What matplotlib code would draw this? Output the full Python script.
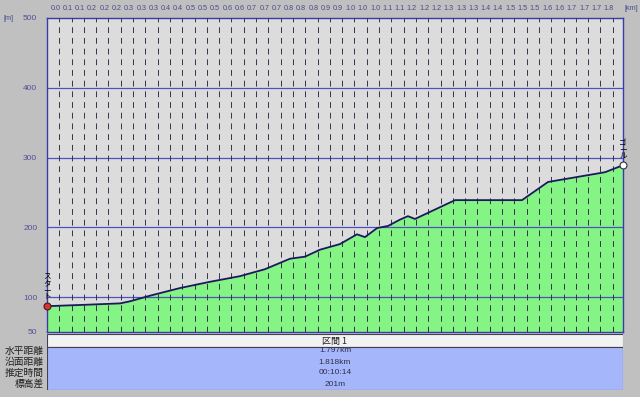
#!/usr/bin/env python3
# -*- coding: utf-8 -*-
"""Elevation profile of one route section (区間 1)."""
import matplotlib
matplotlib.use("Agg")
import matplotlib.pyplot as plt
import matplotlib.transforms as mtransforms
from matplotlib.patches import Rectangle

# --- Data ---
# distance along the route [km] and elevation [m]
dist_km = [0.000, 0.119, 0.228, 0.259, 0.321, 0.415, 0.509, 0.602, 0.680, 0.758,
           0.805, 0.852, 0.914, 0.967, 0.992, 1.030, 1.064, 1.101, 1.126, 1.148,
           1.273, 1.482, 1.563, 1.741, 1.797]
elev_m = [87, 89, 91, 94, 102, 113, 122, 130, 140, 155,
          158, 168, 176, 190, 186, 199, 202, 211, 216, 212,
          239, 239, 265, 279, 289]

# labels printed above each dashed grid line
top_labels = ["0.0", "0.1", "0.1", "0.2", "0.2", "0.2", "0.3", "0.3", "0.3", "0.4",
              "0.4", "0.5", "0.5", "0.5", "0.6", "0.6", "0.7", "0.7", "0.7", "0.8",
              "0.8", "0.8", "0.9", "0.9", "1.0", "1.0", "1.0", "1.1", "1.1", "1.2",
              "1.2", "1.2", "1.3", "1.3", "1.3", "1.4", "1.4", "1.5", "1.5", "1.5",
              "1.6", "1.6", "1.7", "1.7", "1.7", "1.8"]
y_ticks = [50, 100, 200, 300, 400, 500]
y_grid = [100, 200, 300, 400]

section_name = "区間 1"
row_names = ["水平距離", "沿面距離", "推定時間", "標高差"]
row_values = ["1.797km", "1.818km", "00:10:14", "201m"]

start_name = "ス\nタ\nー\nト"
goal_name = "ゴ\nー\nル"

# --- Layout ---
W, H = 640, 397
TOTAL_KM = 1.797
GRID_STEP = 0.03837  # km between dashed lines
CJK = ["Noto Sans CJK JP", "DejaVu Sans"]
NUM = ["Liberation Sans", "DejaVu Sans"]


def box(x0, y0, x1, y1):
    """Pixel box (top-left origin) -> figure fraction rect."""
    return [x0 / W, 1 - y1 / H, (x1 - x0) / W, (y1 - y0) / H]


fig = plt.figure(figsize=(W / 100, H / 100), dpi=100, facecolor="#c0c0c0")

# ---------------------------- profile ----------------------------
ax = fig.add_axes(box(47, 18, 623, 332))
ax.set_facecolor("#dcdcdc")
ax.set_xlim(0, TOTAL_KM)
ax.set_ylim(50, 500)

ax.fill_between(dist_km, elev_m, 50, color="#84f484", lw=0, zorder=1)
for y in y_grid:
    ax.axhline(y, color="#5050c0", lw=0.9, zorder=2)
for i in range(len(top_labels)):
    ax.axvline((i + 1) * GRID_STEP, color="#34344a", lw=0.7, dashes=(6, 5), zorder=3)
ax.plot(dist_km, elev_m, color="#1a1a5a", lw=1.3, zorder=4)

# start / goal markers
ax.plot(dist_km[0], elev_m[0], "o", ms=5, mfc="#e03030", mec="#402020", mew=0.8,
        clip_on=False, zorder=6)
ax.plot(dist_km[-1], elev_m[-1], "o", ms=5, mfc="white", mec="#303040", mew=0.8,
        clip_on=False, zorder=6)
up = mtransforms.ScaledTranslation(0, 0.05, fig.dpi_scale_trans)
ax.text(dist_km[0], elev_m[0], start_name, transform=ax.transData + up,
        ha="center", va="bottom", fontsize=5.5, linespacing=0.8, family=CJK, zorder=6)
ax.text(dist_km[-1], elev_m[-1], goal_name, transform=ax.transData + up,
        ha="center", va="bottom", fontsize=5.5, linespacing=0.8, family=CJK, zorder=6)

# y axis labels
ax.set_xticks([])
ax.set_yticks(y_ticks)
ax.tick_params(axis="y", length=0, pad=7, labelsize=6, labelcolor="#50509a")
for lab in ax.get_yticklabels():
    lab.set_family(NUM)

# top distance labels
off = mtransforms.ScaledTranslation(0.01, 0.09, fig.dpi_scale_trans)
for i, lab in enumerate(top_labels):
    ax.text((i + 1) * GRID_STEP, 1, lab, transform=ax.get_xaxis_transform() + off,
            ha="right", va="center", fontsize=5.2, color="#4a4a90", family=NUM)
fig.text(631 / W, 1 - 9 / H, "[km]", ha="center", va="center",
         fontsize=5.2, color="#4a4a90", family=NUM)
fig.text(9 / W, 1 - 18 / H, "[m]", ha="center", va="center",
         fontsize=5.2, color="#4a4a90", family=NUM)

for s in ax.spines.values():
    s.set_color("#3a3aa8")
    s.set_linewidth(1)

# ---------------------------- table ----------------------------
tx = fig.add_axes(box(47, 334, 623, 390))
tx.set_xlim(0, 1)
tx.set_ylim(56, 0)
tx.axis("off")
tx.add_patch(Rectangle((0, 0), 1, 13, facecolor="#f2f2f2", edgecolor="#404050", lw=0.8))
tx.add_patch(Rectangle((0, 13), 1, 43, facecolor="#a6b6fa", edgecolor="#404050", lw=0.8))
tx.text(0.5, 7, section_name, ha="center", va="center", fontsize=6.5,
        color="#202020", family=CJK)
for k, (name, val) in enumerate(zip(row_names, row_values)):
    yp = 351 + k * 11
    tx.text(0.5, yp - 334, val, ha="center", va="center", fontsize=6,
            color="#303050", family=NUM)
    fig.text(44 / W, 1 - yp / H, name, ha="right", va="center", fontsize=7,
             color="#202020", family=CJK)

fig.savefig("out.png", dpi=100, facecolor=fig.get_facecolor())
